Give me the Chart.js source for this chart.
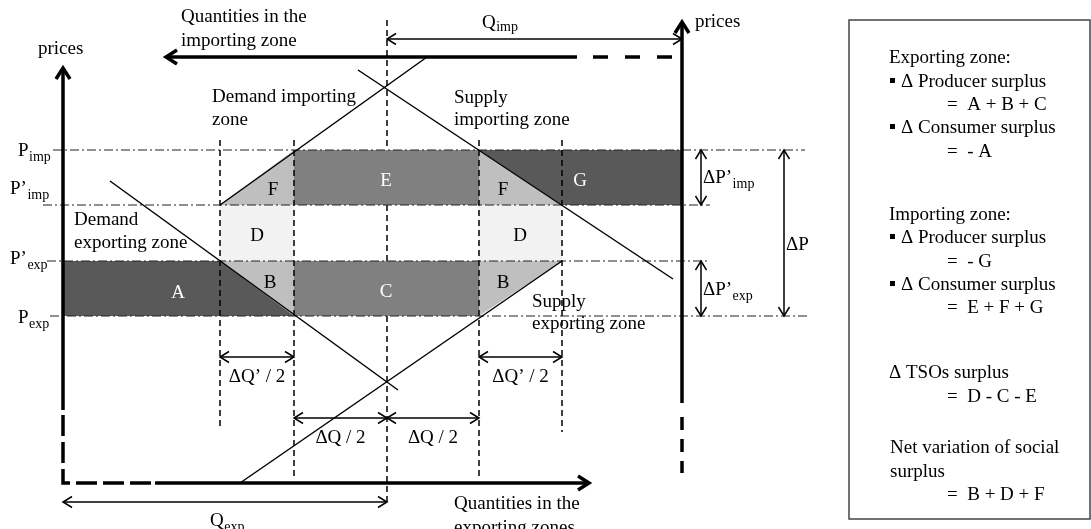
<!DOCTYPE html>
<html>
<head>
<meta charset="utf-8">
<script src="https://cdn.jsdelivr.net/npm/chart.js@4.4.1/dist/chart.umd.min.js"></script>
<style>
html,body{margin:0;padding:0;background:#fff;}
canvas{display:block;}
</style>
</head>
<body>
<canvas id="surplusChart" width="1091" height="529"></canvas>
<script>
// diagram units: x to the right, y downward (top = 0)
// price levels: P_imp, P'_imp, P'_exp, P_exp
const priceNames=["imp","imp","exp","exp"];
const priceLevels=[150,205,261,316];
// quantity marks: left dQ'/2, left dQ/2, centre, right dQ/2, right dQ'/2
const qMarks=[220,294,387,479,562];
// the two price axes (exporting left, importing right)
const priceAxisX=[63,682];
// the two quantity axes (exporting bottom, importing top)
const qtyAxisY=[483,57];
// supply / demand curves, two end points each
const demandExp=[[110,181],[398,390]];
const supplyExp=[[240,483],[562,261]];
const demandImp=[[220,205],[427,57]];
const supplyImp=[[358,70],[673,279]];
// surplus areas
const areaNames=["A","B","C","B","D","D","F","E","F","G"];

const P=priceLevels, Q=qMarks;
const DARK="#595959", MID="#808080", LIGHT="#bfbfbf", PALE="#f2f2f2";
const FONT='"Liberation Serif","Times New Roman",serif';

function lineDs(pts,opt){
return Object.assign({
data:pts.map(p=>({x:p[0],y:p[1]})),
showLine:true,
pointRadius:0,
pointHoverRadius:0,
borderColor:"#000",
borderWidth:1.5,
fill:false,
tension:0,
order:2
},opt);
}

function areaDs(pts,color,base){
return lineDs(pts,{borderWidth:0,borderColor:"rgba(0,0,0,0)",backgroundColor:color,fill:{value:base},order:6});
}

let datasets=[];

// areas
datasets.push(areaDs([[priceAxisX[0],P[2]],[Q[0],P[2]],[Q[1],P[3]]],DARK,P[3]));   // A
datasets.push(areaDs([[Q[0],P[2]],[Q[1],P[3]]],LIGHT,P[2]));                       // B left
datasets.push(areaDs([[Q[1],P[2]],[Q[3],P[2]]],MID,P[3]));                         // C
datasets.push(areaDs([[Q[3],P[3]],[Q[4],P[2]]],LIGHT,P[2]));                       // B right
datasets.push(areaDs([[Q[0],P[1]],[Q[1],P[1]]],PALE,P[2]));                        // D left
datasets.push(areaDs([[Q[3],P[1]],[Q[4],P[1]]],PALE,P[2]));                        // D right
datasets.push(areaDs([[Q[0],P[1]],[Q[1],P[0]]],LIGHT,P[1]));                       // F left
datasets.push(areaDs([[Q[1],P[0]],[Q[3],P[0]]],MID,P[1]));                         // E
datasets.push(areaDs([[Q[3],P[0]],[Q[4],P[1]]],LIGHT,P[1]));                       // F right
datasets.push(areaDs([[Q[3],P[0]],[Q[4],P[1]],[priceAxisX[1],P[1]]],DARK,P[0]));   // G

// price guide lines (dash-dot)
const guideFrom=[53,43,47,50], guideTo=[805,710,710,810];
P.forEach((p,i)=>{
datasets.push(lineDs([[guideFrom[i],p],[guideTo[i],p]],{borderWidth:1,borderColor:"#222",borderDash:[9,3,2,3],order:4}));
});

// quantity guide lines (dashed); the centre one is hidden behind E and C
const vTop=[140,140,20,140,140], vBottom=[427,477,505,477,432];
Q.forEach((q,i)=>{
let dash={borderWidth:1.5,borderDash:[6,4],order:4};
if(i===2){
datasets.push(lineDs([[q,vTop[i]],[q,P[0]]],dash));
datasets.push(lineDs([[q,P[1]],[q,P[2]]],dash));
datasets.push(lineDs([[q,P[3]],[q,vBottom[i]]],dash));
}else{
datasets.push(lineDs([[q,vTop[i]],[q,vBottom[i]]],dash));
}
});

// curves
[demandExp,supplyExp,demandImp,supplyImp].forEach(c=>{
datasets.push(lineDs(c,{borderWidth:1.5,order:2}));
});

// axes
datasets.push(lineDs([[priceAxisX[0],68],[priceAxisX[0],410]],{borderWidth:3.5,order:1}));
datasets.push(lineDs([[priceAxisX[0],415],[priceAxisX[0],qtyAxisY[0]],[155,qtyAxisY[0]]],{borderWidth:3.5,borderDash:[21,6],order:1}));
datasets.push(lineDs([[155,qtyAxisY[0]],[589,qtyAxisY[0]]],{borderWidth:3.5,order:1}));
datasets.push(lineDs([[166,qtyAxisY[1]],[577,qtyAxisY[1]]],{borderWidth:3.5,order:1}));
datasets.push(lineDs([[593,qtyAxisY[1]],[676,qtyAxisY[1]]],{borderWidth:3.5,borderDash:[15,17],order:1}));
datasets.push(lineDs([[priceAxisX[1],22],[priceAxisX[1],403]],{borderWidth:3.5,order:1}));
datasets.push(lineDs([[priceAxisX[1],417],[priceAxisX[1],473]],{borderWidth:3.5,borderDash:[13,9],order:1}));

// double arrows (measures)
const hArrows=[[Q[2],priceAxisX[1],39],[priceAxisX[0],Q[2],502],[Q[0],Q[1],357],[Q[3],Q[4],357],[Q[1],Q[2],418],[Q[2],Q[3],418]];
const vArrows=[[701,P[0],P[1]],[701,P[2],P[3]],[784,P[0],P[3]]];
hArrows.forEach(a=>datasets.push(lineDs([[a[0],a[2]],[a[1],a[2]]],{borderWidth:1.5,order:1})));
vArrows.forEach(a=>datasets.push(lineDs([[a[0],a[1]],[a[0],a[2]]],{borderWidth:1.5,order:1})));

function chevron(ctx,x,y,dx,dy,len,half,lw){
ctx.beginPath();
ctx.moveTo(x-dx*len-dy*half,y-dy*len+dx*half);
ctx.lineTo(x,y);
ctx.lineTo(x-dx*len+dy*half,y-dy*len-dx*half);
ctx.lineWidth=lw;
ctx.strokeStyle="#000";
ctx.stroke();
}

function subText(ctx,main,sub,x,y,drop,size){
ctx.font=(size||19)+"px "+FONT;
ctx.fillText(main,x,y);
let w=ctx.measureText(main).width;
ctx.font="14px "+FONT;
ctx.fillText(sub,x+w+0.5,y+drop);
}

const drawingPlugin={
id:"drawing",
afterDatasetsDraw(chart){
const ctx=chart.ctx;
const sx=chart.scales.x, sy=chart.scales.y;
const px=v=>sx.getPixelForValue(v), py=v=>sy.getPixelForValue(v);
ctx.save();
ctx.lineJoin="miter";
ctx.lineCap="butt";

// axis arrow heads
chevron(ctx,px(priceAxisX[0]),py(68),0,-1,11,7,3.5);
chevron(ctx,px(priceAxisX[1]),py(22),0,-1,11,7,3.5);
chevron(ctx,px(589),py(qtyAxisY[0]),1,0,11,7,3.5);
chevron(ctx,px(166),py(qtyAxisY[1]),-1,0,11,7,3.5);

// measure arrow heads
hArrows.forEach(a=>{
chevron(ctx,px(a[0]),py(a[2]),-1,0,9,5.5,1.5);
chevron(ctx,px(a[1]),py(a[2]),1,0,9,5.5,1.5);
});
vArrows.forEach(a=>{
chevron(ctx,px(a[0]),py(a[1]),0,-1,9,5.5,1.5);
chevron(ctx,px(a[0]),py(a[2]),0,1,9,5.5,1.5);
});

ctx.fillStyle="#000";
ctx.textBaseline="alphabetic";
ctx.textAlign="left";
ctx.font="19px "+FONT;

const texts=[
["Quantities in the",181,22],["importing zone",181,46],
["prices",38,54],["prices",695,27],
["Demand importing",212,102],["zone",212,125],
["Supply",454,103],["importing zone",454,125],
["Demand",74,225],["exporting zone",74,248],
["Supply",532,307],["exporting zone",532,329],
["Quantities in the",454,509],["exporting zones",454,533]
];
texts.forEach(t=>ctx.fillText(t[0],px(t[1]),py(t[2])));

// price labels
subText(ctx,"P",priceNames[0],px(18),py(156),5);
subText(ctx,"P\u2019",priceNames[1],px(10),py(194),5);
subText(ctx,"P\u2019",priceNames[2],px(10),py(264),5);
subText(ctx,"P",priceNames[3],px(18),py(323),5);
subText(ctx,"Q","imp",px(482),py(28),3);
subText(ctx,"Q","exp",px(210),py(526),5);
subText(ctx,"\u0394P\u2019","imp",px(703),py(183),5);
subText(ctx,"\u0394P\u2019","exp",px(703),py(295),5);
ctx.font="19px "+FONT;
ctx.fillText("\u0394P",px(786),py(250));

ctx.textAlign="center";
ctx.fillText("\u0394Q\u2019 / 2",px((Q[0]+Q[1])/2),py(382));
ctx.fillText("\u0394Q\u2019 / 2",px((Q[3]+Q[4])/2),py(382));
ctx.fillText("\u0394Q / 2",px((Q[1]+Q[2])/2),py(443));
ctx.fillText("\u0394Q / 2",px((Q[2]+Q[3])/2),py(443));

// area letters
const letterPos=[[178,298,"#fff"],[270,288,"#000"],[386,297,"#fff"],[503,288,"#000"],[257,241,"#000"],[520,241,"#000"],[273,195,"#000"],[386,186,"#fff"],[503,195,"#000"],[580,186,"#fff"]];
areaNames.forEach((n,i)=>{
ctx.fillStyle=letterPos[i][2];
ctx.fillText(n,px(letterPos[i][0]),py(letterPos[i][1]));
});

// summary box
ctx.fillStyle="#000";
ctx.textAlign="left";
ctx.strokeStyle="#444";
ctx.lineWidth=1.5;
ctx.strokeRect(px(849),py(20),px(1090)-px(849),py(519)-py(20));
ctx.font="19px "+FONT;
const boxLines=[
["Exporting zone:",889,63,false],
["\u0394 Producer surplus",901,87,true],
["=  A + B + C",947,110,false],
["\u0394 Consumer surplus",901,133,true],
["=  - A",947,157,false],
["Importing zone:",889,220,false],
["\u0394 Producer surplus",901,243,true],
["=  - G",947,267,false],
["\u0394 Consumer surplus",901,290,true],
["=  E + F + G",947,313,false],
["\u0394 TSOs surplus",889,378,false],
["=  D - C - E",947,402,false],
["Net variation of social",890,453,false],
["surplus",890,477,false],
["=  B + D + F",947,500,false]
];
boxLines.forEach(l=>{
ctx.fillText(l[0],px(l[1]),py(l[2]));
if(l[3]) ctx.fillRect(px(890),py(l[2]-9),5,5);
});

ctx.restore();
}
};

new Chart(document.getElementById("surplusChart"),{
type:"scatter",
data:{datasets:datasets},
options:{
responsive:false,
animation:false,
events:[],
layout:{padding:0},
scales:{
x:{type:"linear",min:0,max:1091,display:false},
y:{type:"linear",min:0,max:529,reverse:true,display:false}
},
plugins:{
legend:{display:false},
title:{display:false},
tooltip:{enabled:false}
}
},
plugins:[drawingPlugin]
});
</script>
</body>
</html>
